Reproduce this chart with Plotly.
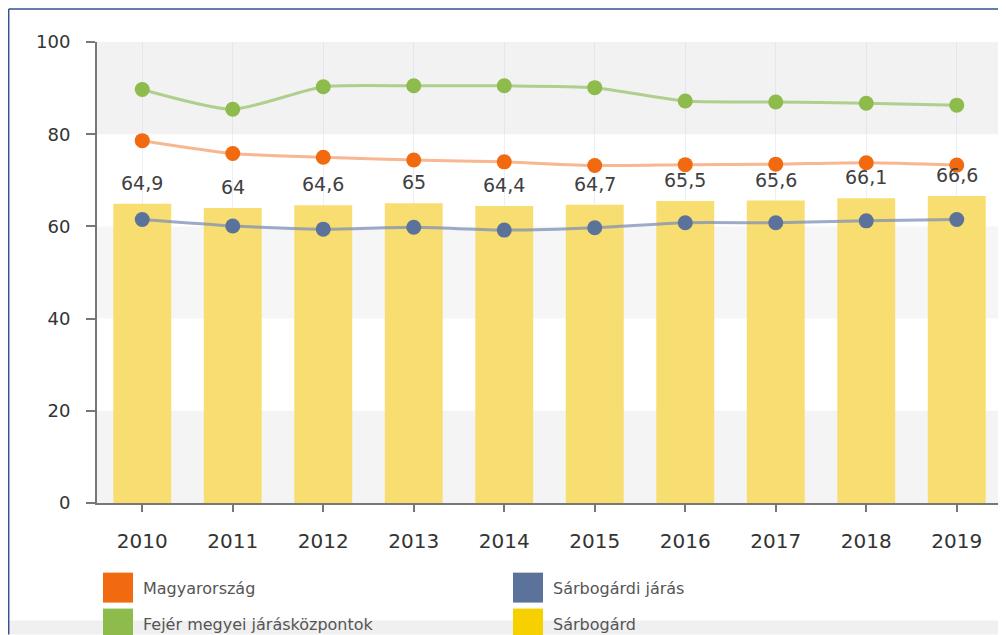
import plotly.graph_objects as go

years = ["2010", "2011", "2012", "2013", "2014", "2015", "2016", "2017", "2018", "2019"]
sarbogard = [64.9, 64.0, 64.6, 65.0, 64.4, 64.7, 65.5, 65.6, 66.1, 66.6]
sarbogard_labels = ["64,9", "64", "64,6", "65", "64,4", "64,7", "65,5", "65,6", "66,1", "66,6"]
fejer = [89.7, 85.4, 90.3, 90.5, 90.5, 90.1, 87.2, 87.0, 86.7, 86.3]
magyarorszag = [78.6, 75.8, 75.0, 74.4, 74.0, 73.2, 73.4, 73.5, 73.8, 73.3]
sarbogardi_jaras = [61.5, 60.1, 59.4, 59.8, 59.2, 59.7, 60.8, 60.8, 61.2, 61.5]
y_ticks = [0, 20, 40, 60, 80, 100]

FONT = "DejaVu Sans"
C_ORANGE = "#f26a10"
C_GREEN = "#8dbb4c"
C_BLUE = "#5b739b"
C_YELLOW = "#f7d000"

# the page body adds an 8px offset; figure is sized so it fills the 1006x635 window
OFF = 8
W, H = 1006 - OFF, 635 - OFF
ML, MT = 97 - OFF, 41.8 - OFF
MR = W - (1002 - OFF)
MB = H - (503.3 - OFF)
PW = W - ML - MR
PH = H - MT - MB


def px(x_win):
    """window pixel x -> paper x"""
    return (x_win - OFF - ML) / PW


def py(y_win):
    """window pixel y -> paper y"""
    return (H - MB - (y_win - OFF)) / PH


fig = go.Figure()

fig.add_trace(go.Bar(
    x=years, y=sarbogard, name="Sárbogárd",
    marker=dict(color="#f8dd70", line=dict(width=0)), width=0.64,
    showlegend=False,
))


def line_trace(vals, col, lcol, name):
    return go.Scatter(
        x=years, y=vals, mode="lines+markers", name=name, showlegend=False,
        line=dict(color=lcol, width=3, shape="spline", smoothing=0.6),
        marker=dict(color=col, size=15),
    )


fig.add_trace(line_trace(fejer, C_GREEN, "rgba(165,200,125,0.85)", "Fejér megyei járásközpontok"))
fig.add_trace(line_trace(magyarorszag, C_ORANGE, "rgba(242,135,70,0.6)", "Magyarország"))
fig.add_trace(line_trace(sarbogardi_jaras, C_BLUE, "rgba(125,143,182,0.75)", "Sárbogárdi járás"))

annotations = []
for i, (v, t) in enumerate(zip(sarbogard, sarbogard_labels)):
    annotations.append(dict(
        x=i, y=v, xref="x", yref="y", text=t, showarrow=False,
        yanchor="middle", yshift=21,
        font=dict(family=FONT, size=19, color="#404040"),
    ))

shapes = []
# alternating background bands
for y0, y1, c in [(0, 20, "#f4f4f4"), (40, 60, "#f6f6f6"), (80, 100, "#f2f2f2")]:
    shapes.append(dict(type="rect", xref="paper", yref="y", x0=0, x1=1, y0=y0, y1=y1,
                       fillcolor=c, line=dict(width=0), layer="below"))
# faint bottom shadow of the screenshot
shapes.append(dict(type="rect", xref="paper", yref="paper",
                   x0=px(8.5), x1=px(1006), y0=py(635), y1=py(621),
                   fillcolor="#f0f0f0", line=dict(width=0), layer="below"))
# outer frame (top and left border)
shapes.append(dict(type="line", xref="paper", yref="paper",
                   x0=px(8.7), x1=px(1006), y0=py(8.7), y1=py(8.7),
                   line=dict(color="#34528f", width=1.5)))
shapes.append(dict(type="line", xref="paper", yref="paper",
                   x0=px(8.7), x1=px(8.7), y0=py(8.7), y1=py(635),
                   line=dict(color="#34528f", width=1.5)))

# legend (2 columns, square swatches)
legend_items = [
    ("Magyarország", C_ORANGE, 103, 573),
    ("Sárbogárdi járás", C_BLUE, 513, 573),
    ("Fejér megyei járásközpontok", C_GREEN, 103, 609),
    ("Sárbogárd", C_YELLOW, 513, 609),
]
for name, col, lx, ly in legend_items:
    shapes.append(dict(type="rect", xref="paper", yref="paper",
                       x0=px(lx), x1=px(lx + 30), y0=py(ly + 30), y1=py(ly),
                       fillcolor=col, line=dict(width=0)))
    annotations.append(dict(
        x=px(lx + 38), y=py(ly + 16), xref="paper", yref="paper",
        xanchor="left", yanchor="middle", text=name, showarrow=False,
        font=dict(family=FONT, size=16, color="#555555"),
    ))

fig.update_layout(
    width=W, height=H,
    margin=dict(l=ML, r=MR, t=MT, b=MB, pad=0, autoexpand=False),
    paper_bgcolor="white", plot_bgcolor="white",
    font=dict(family=FONT, color="#333333"),
    shapes=shapes, annotations=annotations,
    showlegend=False,
    xaxis=dict(
        type="category", range=[-0.5, len(years) - 0.5],
        showline=True, linecolor="#777777", linewidth=2,
        ticks="outside", ticklen=7, tickcolor="#777777", tickwidth=2,
        tickfont=dict(family=FONT, size=20, color="#333333"),
        ticklabelstandoff=12,
        showgrid=True, gridcolor="rgba(200,210,225,0.35)", gridwidth=1,
        zeroline=False,
    ),
    yaxis=dict(
        range=[0, 100], tickvals=y_ticks,
        showline=True, linecolor="#777777", linewidth=2,
        ticks="outside", ticklen=9, tickcolor="#777777", tickwidth=2,
        tickfont=dict(family=FONT, size=18, color="#333333"),
        ticklabelstandoff=12,
        showgrid=False, zeroline=False,
    ),
)

fig.write_html("out.html")
